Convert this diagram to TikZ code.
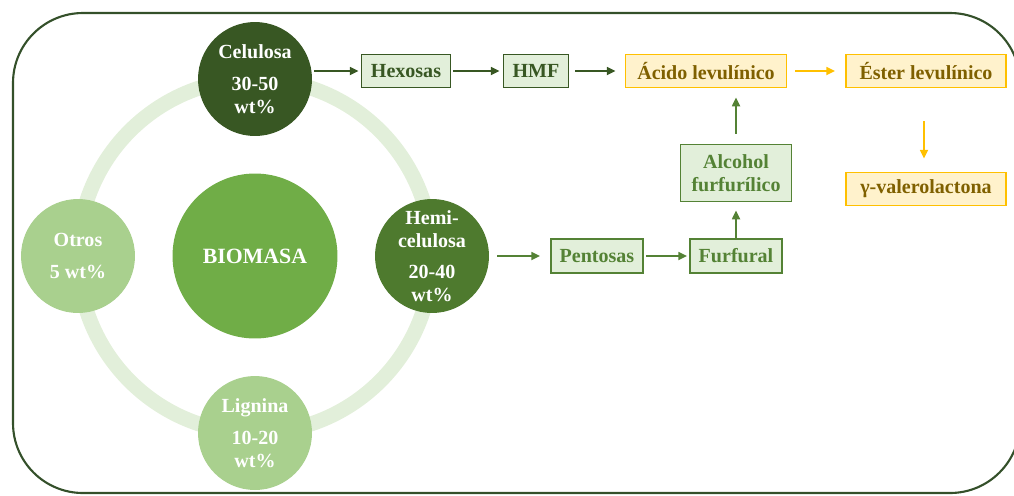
\documentclass[tikz,border=0pt]{standalone}
\usepackage{fontspec}
\setmainfont{Liberation Serif}
\usetikzlibrary{arrows.meta}
\definecolor{framec}{HTML}{34502A}
\definecolor{celc}{HTML}{385723}
\definecolor{hemic}{HTML}{4E7A2E}
\definecolor{biomc}{HTML}{70AD47}
\definecolor{lightc}{HTML}{A9D08E}
\definecolor{ringc}{HTML}{E2EFDA}
\definecolor{boxfill}{HTML}{E2EFDA}
\definecolor{midg}{HTML}{548235}
\definecolor{orc}{HTML}{FFC000}
\definecolor{orfill}{HTML}{FFF2CC}
\definecolor{ortext}{HTML}{7F6000}
\begin{document}
\begin{tikzpicture}[x=0.02cm,y=-0.02cm,
  txt/.style={font=\bfseries\fontsize{11.4}{13}\selectfont},
  blob/.style={circle,inner sep=0pt,minimum size=2.28cm,text=white,align=center,txt},
  gbox/.style={draw=midg,fill=boxfill,line width=1.1pt,text=midg,inner sep=0pt,minimum height=0.66cm,align=center,txt},
  dbox/.style={gbox,draw=celc,text=celc},
  obox/.style={draw=orc,fill=orfill,line width=1.1pt,text=ortext,inner sep=0pt,minimum height=0.66cm,align=center,txt},
  arr/.style={line width=1.1pt,-{Triangle[length=5pt,width=4.5pt]}},
  darr/.style={arr,draw=celc},
  garr/.style={arr,draw=midg},
  oarr/.style={arr,draw=orc}]
\useasboundingbox (0,0) rectangle (1014,495);
% frame
\draw[framec,line width=1.2pt,rounded corners=1.4cm] (13,13) rectangle (1020,493);
% ring
\draw[ringc,line width=0.3cm] (255,256) circle[radius=3.54cm];
% circles
\node[circle,fill=biomc,minimum size=3.3cm,inner sep=0pt,text=white,font=\bfseries\fontsize{12.4}{14}\selectfont] (bio) at (255,256) {BIOMASA};
\node[blob,fill=celc] (cel) at (255,79) {Celulosa\\[5pt]30-50\\wt\%};
\node[blob,fill=hemic] (hemi) at (432,256) {Hemi-\\celulosa\\[5pt]20-40\\wt\%};
\node[blob,fill=lightc] (otros) at (78,256) {Otros\\[5pt]5 wt\%};
\node[blob,fill=lightc] (lig) at (255,433) {Lignina\\[5pt]10-20\\wt\%};
% boxes
\node[dbox,minimum width=1.78cm] (hex) at (406,71) {Hexosas};
\node[dbox,minimum width=1.3cm] (hmf) at (536,71) {HMF};
\node[obox,minimum width=3.22cm] (acido) at (706,71) {Ácido levulínico};
\node[obox,minimum width=3.2cm] (ester) at (926,71) {Éster levulínico};
\node[gbox,minimum width=2.22cm,minimum height=1.14cm] (alc) at (736,173) {Alcohol\\furfurílico};
\node[obox,minimum width=3.2cm] (gvl) at (926,189) {γ-valerolactona};
\node[gbox,minimum width=1.84cm,minimum height=0.68cm] (pent) at (597,256) {Pentosas};
\node[gbox,minimum width=1.84cm,minimum height=0.68cm] (furf) at (736,256) {Furfural};
% arrows
\draw[darr,shorten <=0.04cm,shorten >=0.04cm] (hex.west -| cel.east) -- (hex.west);
\draw[darr,shorten <=0.04cm,shorten >=0.06cm] (hex) -- (hmf);
\draw[darr,shorten <=0.12cm,shorten >=0.18cm] (hmf) -- (acido);
\draw[oarr,shorten <=0.16cm,shorten >=0.2cm] (acido) -- (ester);
\draw[oarr,shorten <=0.66cm,shorten >=0.26cm] (ester.south) ++(-2,0) coordinate (es) (es) -- (es |- gvl.north);
\draw[garr,shorten >=0.16cm] (furf) -- (alc);
\draw[garr,shorten <=0.2cm,shorten >=0.18cm] (alc) -- (acido.south -| alc);
\draw[garr,shorten <=0.16cm,shorten >=0.2cm] (hemi.east) -- (pent.west);
\draw[garr,shorten <=0.04cm,shorten >=0.04cm] (pent) -- (furf);
\end{tikzpicture}
\end{document}
